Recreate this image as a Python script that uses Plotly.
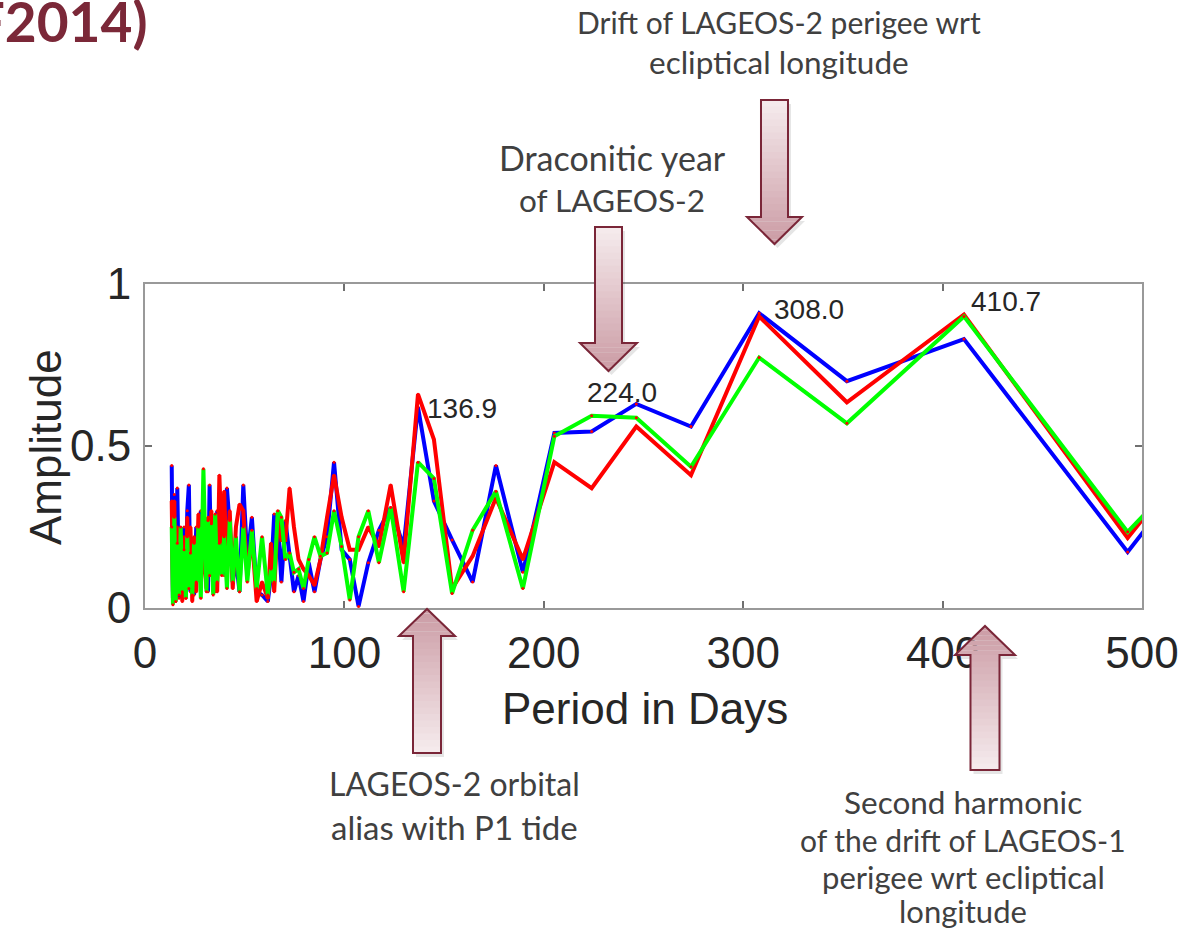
import plotly.graph_objects as go

W, H = 1189, 930

# ---------------- data ----------------
periods = [13.4, 14.0, 14.7, 15.4, 16.2, 17.1, 17.9, 18.7, 19.6, 20.5,
           21.2, 22.0, 22.8, 23.7, 24.6, 25.7, 26.8, 28.0, 29.3, 30.8,
           31.6, 32.4, 33.3, 34.2, 35.2, 36.2, 37.3, 38.5, 39.7, 41.1,
           42.5, 44.0, 45.6, 47.4, 49.3, 51.3, 53.6, 56.0, 58.7, 61.6,
           63.2, 64.8, 66.6, 68.4, 70.4, 72.5, 74.7, 77.0, 79.5, 82.1,
           85.0, 88.0, 91.3, 94.8, 98.6, 102.7, 107.1, 112.0, 117.3, 123.2,
           129.7, 136.9, 144.9, 154.0, 164.3, 176.0, 189.5, 205.3, 224.0, 246.4,
           273.8, 308.0, 352.0, 410.7, 492.8, 616.0]

amp_blue = [0.44, 0.03, 0.35, 0.05, 0.37, 0.03, 0.15, 0.04, 0.25, 0.06,
            0.30, 0.38, 0.05, 0.20, 0.04, 0.25, 0.10, 0.30, 0.12, 0.20,
            0.05, 0.38, 0.10, 0.25, 0.05, 0.30, 0.12, 0.30, 0.10, 0.37,
            0.25, 0.08, 0.15, 0.05, 0.38, 0.15, 0.28, 0.05, 0.04, 0.02,
            0.10, 0.29, 0.27, 0.08, 0.27, 0.17, 0.05, 0.10, 0.02, 0.14,
            0.05, 0.15, 0.22, 0.45, 0.18, 0.15, 0.005, 0.14, 0.24, 0.31,
            0.19, 0.62, 0.33, 0.21, 0.08, 0.44, 0.11, 0.54, 0.545, 0.63,
            0.56, 0.91, 0.70, 0.83, 0.173, 1.15]

amp_red = [0.33, 0.05, 0.33, 0.02, 0.25, 0.05, 0.20, 0.02, 0.22, 0.03,
           0.28, 0.10, 0.25, 0.02, 0.22, 0.05, 0.29, 0.08, 0.20, 0.06,
           0.28, 0.15, 0.30, 0.05, 0.18, 0.05, 0.41, 0.20, 0.36, 0.10,
           0.30, 0.06, 0.25, 0.32, 0.30, 0.10, 0.22, 0.02, 0.08, 0.03,
           0.20, 0.05, 0.28, 0.21, 0.21, 0.37, 0.25, 0.15, 0.12, 0.10,
           0.07, 0.15, 0.28, 0.41, 0.28, 0.18, 0.18, 0.25, 0.19, 0.38,
           0.14, 0.66, 0.52, 0.06, 0.16, 0.34, 0.15, 0.45, 0.37, 0.56,
           0.41, 0.90, 0.635, 0.906, 0.216, 1.17]

amp_green = [0.25, 0.01, 0.28, 0.02, 0.20, 0.04, 0.25, 0.05, 0.18, 0.03,
             0.22, 0.06, 0.17, 0.04, 0.20, 0.08, 0.25, 0.03, 0.43, 0.05,
             0.27, 0.10, 0.26, 0.04, 0.29, 0.08, 0.20, 0.10, 0.22, 0.06,
             0.27, 0.08, 0.22, 0.05, 0.25, 0.08, 0.24, 0.06, 0.22, 0.04,
             0.12, 0.08, 0.30, 0.28, 0.15, 0.17, 0.11, 0.12, 0.06, 0.15,
             0.22, 0.16, 0.17, 0.30, 0.19, 0.025, 0.22, 0.30, 0.14, 0.31,
             0.05, 0.45, 0.40, 0.045, 0.24, 0.36, 0.06, 0.53, 0.593, 0.587,
             0.436, 0.773, 0.57, 0.90, 0.235, 1.02]

peak_labels = ["136.9", "224.0", "308.0", "410.7"]
label_x = [140.5, 220.9, 314.3, 413.3]
label_y = [0.617, 0.664, 0.92, 0.945]

x_ticks = [0, 100, 200, 300, 400, 500]
y_ticks = [0, 0.5, 1]
y_ticktext = ["0", "0.5", "1"]

# ---------------- helpers (pixel -> paper) ----------------
def px(x):
    return x / W


def py(y):
    return 1 - y / H


fig = go.Figure()

for amps, color in [(amp_blue, "#0000ff"), (amp_red, "#ff0000"), (amp_green, "#00ff00")]:
    fig.add_trace(go.Scatter(
        x=periods, y=amps, mode="lines+markers",
        line=dict(color=color, width=4),
        marker=dict(color="#ff0000", size=3),
        showlegend=False, hoverinfo="skip"))

shapes = []
annotations = []

# ---------------- block arrows with gradient ----------------
TAIL_C = (246, 236, 238)
TIP_C = (203, 155, 164)
EDGE_C = "#7a2638"


def col(t):
    r, g, b = [round(a + (c - a) * t) for a, c in zip(TAIL_C, TIP_C)]
    return f"rgb({r},{g},{b})"


def poly(points):
    s = "M" + " L".join(f"{px(x):.5f},{py(y):.5f}" for x, y in points) + " Z"
    return s


def add_arrow(cx, sw, hw, tail, hb, tip):
    outline = [(cx - sw, tail), (cx + sw, tail), (cx + sw, hb), (cx + hw, hb),
               (cx, tip), (cx - hw, hb), (cx - sw, hb)]
    # shadow
    shapes.append(dict(type="path", xref="paper", yref="paper", layer="above",
                       path=poly([(x + 3, y + 4) for x, y in outline]),
                       fillcolor="rgba(0,0,0,0.10)", line=dict(width=0)))
    total = tip - tail
    n1 = 18
    for i in range(n1):
        a = tail + (hb - tail) * i / n1
        b = tail + (hb - tail) * (i + 1) / n1
        bb = b + (0.6 if total > 0 else -0.6)
        t = ((a + b) / 2 - tail) / total
        shapes.append(dict(type="path", xref="paper", yref="paper", layer="above",
                           path=poly([(cx - sw, a), (cx + sw, a), (cx + sw, bb), (cx - sw, bb)]),
                           fillcolor=col(t), line=dict(width=0)))
    n2 = 6

    def hwid(y):
        return hw * (tip - y) / (tip - hb)

    for i in range(n2):
        a = hb + (tip - hb) * i / n2
        b = hb + (tip - hb) * (i + 1) / n2
        t = ((a + b) / 2 - tail) / total
        shapes.append(dict(type="path", xref="paper", yref="paper", layer="above",
                           path=poly([(cx - hwid(a), a), (cx + hwid(a), a),
                                      (cx + hwid(b), b), (cx - hwid(b), b)]),
                           fillcolor=col(t), line=dict(width=0)))
    shapes.append(dict(type="path", xref="paper", yref="paper", layer="above",
                       path=poly(outline), fillcolor="rgba(0,0,0,0)",
                       line=dict(color=EDGE_C, width=2)))


add_arrow(774.5, 13.5, 27.5, 100, 217, 244)
add_arrow(608.5, 13.5, 28.5, 227, 343, 371)
add_arrow(427, 14, 28, 753, 636, 609)
add_arrow(985, 14.5, 30, 770, 655, 626)

# ---------------- texts ----------------
def txt(s, x, y, size=30, **kw):
    d = dict(text=s, x=px(x), y=py(y), xref="paper", yref="paper",
             xanchor="center", yanchor="middle", showarrow=False,
             font=dict(family="Lato, Open Sans, sans-serif", size=size, color="#404040"))
    d.update(kw)
    annotations.append(d)


txt("Drift of LAGEOS-2 perigee wrt", 779, 22, 30)
txt("ecliptical longitude", 779, 62, 31.5)
txt("Draconitic year", 612, 157, 34)
txt("of LAGEOS-2", 612, 200, 31.5)
txt("LAGEOS-2 orbital", 454, 783, 32)
txt("alias with P1 tide", 454, 827, 33)
txt("Second harmonic", 963, 802, 31.5)
txt("of the drift of LAGEOS-1", 963, 840, 30)
txt("perigee wrt ecliptical", 963, 877, 31)
txt("longitude", 963, 911, 31)

txt("ITRF2014)", 150, 21, xanchor="right",
    font=dict(family="Lato, sans-serif", size=55, color="#7b2838", weight=700))

AX_FONT = dict(family="Liberation Sans, Arial, sans-serif", size=44, color="#262626")
txt("Amplitude", 45, 447, textangle=-90, font=AX_FONT)
txt("Period in Days", 645, 708, font=AX_FONT)

for s, lx, ly in zip(peak_labels, label_x, label_y):
    annotations.append(dict(text=s, x=lx, y=ly, xref="x", yref="y",
                            xanchor="left", yanchor="middle", showarrow=False,
                            font=dict(family="Liberation Sans, Arial, sans-serif",
                                      size=28, color="#262626")))

TICK_FONT = dict(family="Liberation Sans, Arial, sans-serif", size=44, color="#262626")

fig.update_layout(
    width=W, height=H,
    margin=dict(l=0, r=0, t=0, b=0, autoexpand=False),
    paper_bgcolor="white", plot_bgcolor="white",
    showlegend=False,
    shapes=shapes,
    annotations=annotations,
    xaxis=dict(domain=[145 / W, 1142 / W], range=[0, 500], tickvals=x_ticks,
               ticks="inside", ticklen=7, tickwidth=1.5, tickcolor="#707070",
               showline=True, linecolor="#999999", linewidth=2, mirror="ticks",
               showgrid=False, zeroline=False, tickfont=TICK_FONT,
               ticklabelstandoff=5, fixedrange=True, automargin=False),
    yaxis=dict(domain=[1 - 608 / H, 1 - 284 / H], range=[0, 1], tickvals=y_ticks,
               ticktext=y_ticktext,
               ticks="inside", ticklen=7, tickwidth=1.5, tickcolor="#707070",
               showline=True, linecolor="#999999", linewidth=2, mirror="ticks",
               showgrid=False, zeroline=False, tickfont=TICK_FONT,
               ticklabelstandoff=3, fixedrange=True, automargin=False),
)

fig.write_html("out.html")
